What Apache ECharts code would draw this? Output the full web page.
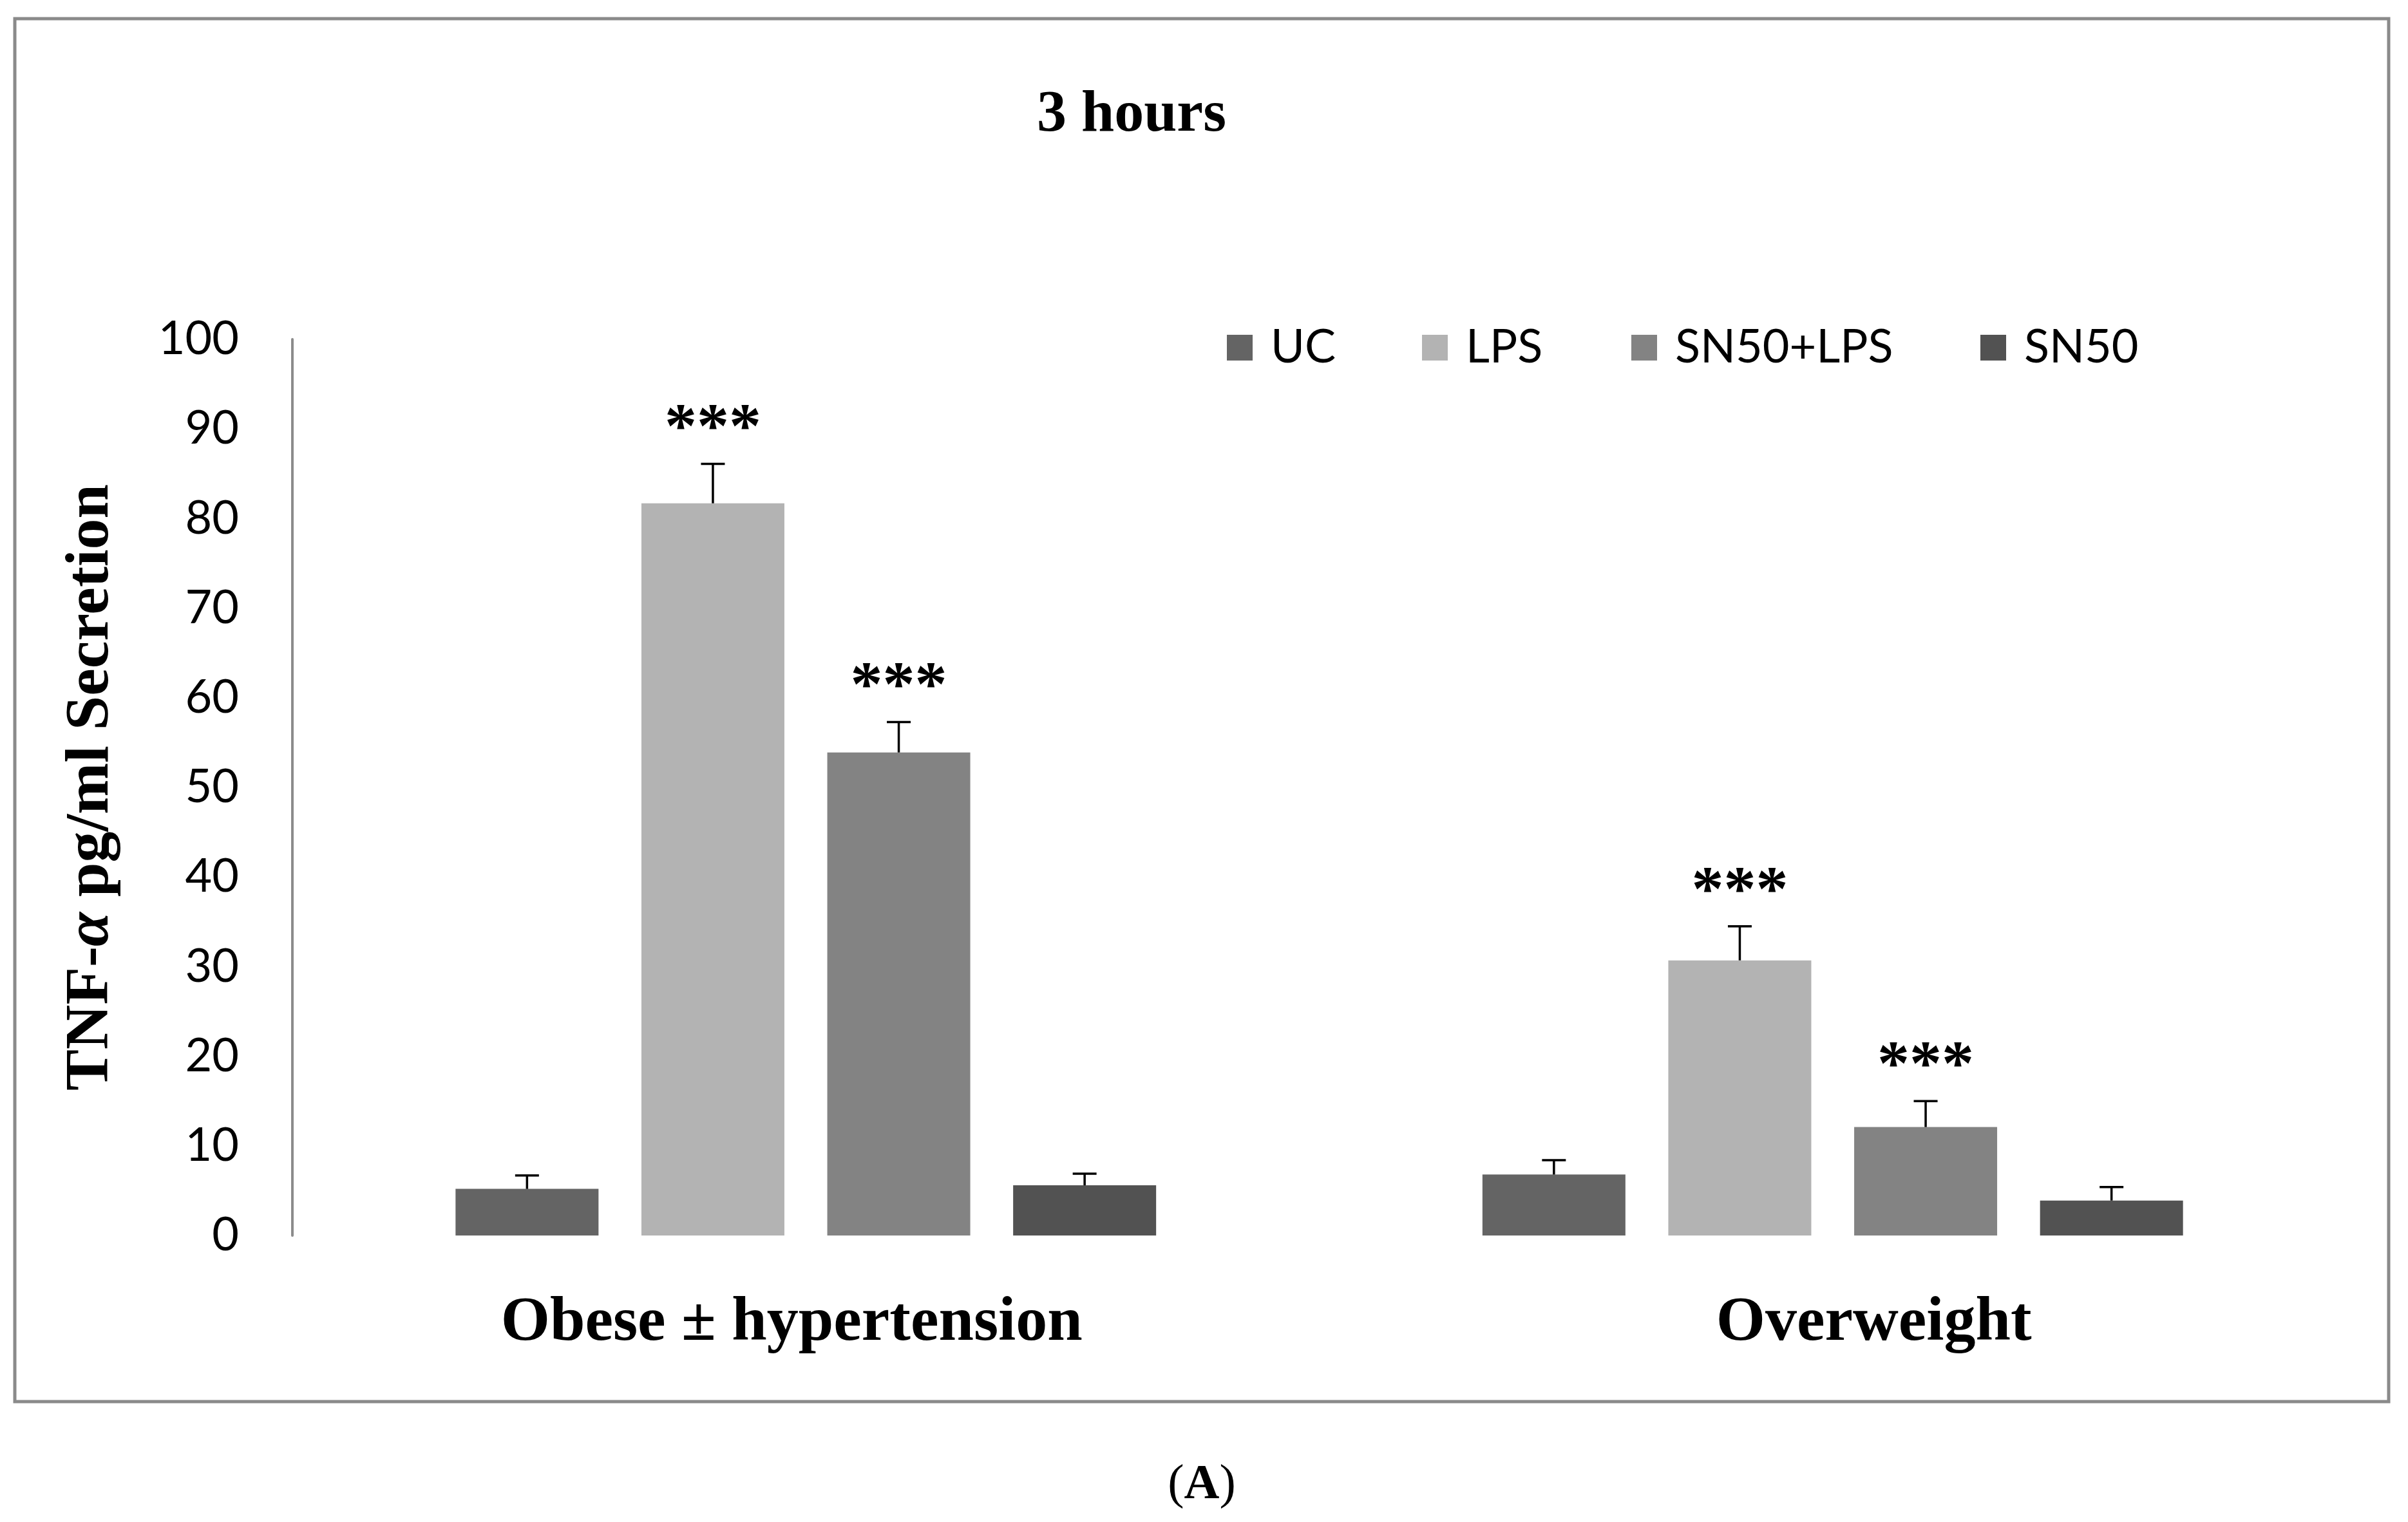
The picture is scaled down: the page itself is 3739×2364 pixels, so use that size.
<!DOCTYPE html>
<html>
<head>
<meta charset="utf-8">
<script src="https://cdn.jsdelivr.net/npm/echarts@6/dist/echarts.min.js"></script>
<style>
html,body{margin:0;padding:0;background:#fff;}
#chart{width:3739px;height:2364px;}
</style>
</head>
<body>
<div id="chart"></div>
<script>
// ---- data ----
const titleText = '3 hours';
const panelLabel = 'A';
const categories = ['Obese ± hypertension', 'Overweight'];
const seriesNames = ['UC', 'LPS', 'SN50+LPS', 'SN50'];
const ucValues = [5.2, 6.8];
const ucErrors = [1.5, 1.6];
const lpsValues = [81.7, 30.7];
const lpsErrors = [4.4, 3.8];
const sn50lpsValues = [53.9, 12.1];
const sn50lpsErrors = [3.4, 2.9];
const sn50Values = [5.6, 3.9];
const sn50Errors = [1.3, 1.5];
const ucStars = ['', ''];
const lpsStars = ['***', '***'];
const sn50lpsStars = ['***', '***'];
const sn50Stars = ['', ''];
const yMin = 0, yMax = 100, yInterval = 10;

// ---- style ----
const colors = ['#646464', '#b3b3b3', '#838383', '#525252'];
const SERIF = '"Liberation Serif", "Times New Roman", serif';
const SANS = 'Lato, "Open Sans", sans-serif';
const BAR_W = 222;
const GAP_RATIO = 0.30;
const CAP_W = 37;
const STAR_OFF = 52;

const allValues = [ucValues, lpsValues, sn50lpsValues, sn50Values];
const allErrors = [ucErrors, lpsErrors, sn50lpsErrors, sn50Errors];
const allStars = [ucStars, lpsStars, sn50lpsStars, sn50Stars];

const barSeries = seriesNames.map((n, i) => ({
  type: 'bar',
  name: n,
  data: allValues[i],
  barWidth: BAR_W,
  barGap: (GAP_RATIO * 100) + '%',
  itemStyle: { color: colors[i] },
  emphasis: { disabled: true },
  z: 2
}));

const errSeries = seriesNames.map((n, i) => ({
  type: 'custom',
  data: categories.map((c, k) => [k, allValues[i][k], allErrors[i][k]]),
  encode: { x: 0, y: 1 },
  z: 10,
  silent: true,
  renderItem: function (params, api) {
    const c = api.value(0), v = api.value(1), e = api.value(2);
    const base = api.coord([c, v]);
    const top = api.coord([c, v + e]);
    const x = base[0] + (i - 1.5) * BAR_W * (1 + GAP_RATIO);
    const star = allStars[i][params.dataIndex];
    const children = [
      { type: 'line', shape: { x1: x, y1: base[1], x2: x, y2: top[1] },
        style: { stroke: '#000', lineWidth: 3.5 } },
      { type: 'line', shape: { x1: x - CAP_W / 2, y1: top[1], x2: x + CAP_W / 2, y2: top[1] },
        style: { stroke: '#000', lineWidth: 3.5 } }
    ];
    if (star) {
      children.push({ type: 'text', x: x, y: top[1] - STAR_OFF,
        style: { text: star, fill: '#000', font: 'bold 100px ' + SERIF,
          align: 'center', verticalAlign: 'middle' } });
    }
    return { type: 'group', children: children };
  }
}));

const legendLefts = [1900, 2203, 2528, 3070];
const legends = seriesNames.map((n, i) => ({
  data: [n],
  left: legendLefts[i],
  top: 499,
  icon: 'rect',
  itemWidth: 40,
  itemHeight: 40,
  selectedMode: false,
  textStyle: { fontFamily: SANS, fontSize: 72, color: '#000', padding: [0, 0, 0, 23] }
}));

const chart = echarts.init(document.getElementById('chart'));
chart.setOption({
  animation: false,
  backgroundColor: '#fff',
  color: colors,
  legend: legends,
  grid: { left: 454, right: 96, top: 527, bottom: 445, containLabel: false },
  xAxis: {
    type: 'category',
    data: categories,
    axisLine: { show: false },
    axisTick: { show: false },
    axisLabel: {
      margin: 88,
      formatter: function (v, idx) { return '{c' + idx + '|' + v + '}'; },
      rich: {
        c0: { fontFamily: SERIF, fontWeight: 'bold', fontSize: 98, color: '#000', padding: [0, 44, 0, 0] },
        c1: { fontFamily: SERIF, fontWeight: 'bold', fontSize: 98, color: '#000', padding: [0, 0, 0, 128] }
      }
    }
  },
  yAxis: {
    type: 'value',
    min: yMin, max: yMax, interval: yInterval,
    axisLine: { show: true, lineStyle: { color: '#8c8c8c', width: 4 } },
    axisTick: { show: false },
    splitLine: { show: false },
    axisLabel: { fontFamily: SANS, fontSize: 72, color: '#000', margin: 83 },
    name: 'TNF-{a|α} pg/ml Secretion',
    nameLocation: 'middle',
    nameGap: 264,
    nameTextStyle: {
      fontFamily: SERIF, fontWeight: 'bold', fontSize: 96, color: '#000',
      rich: { a: { fontFamily: SERIF, fontWeight: 'bold', fontStyle: 'italic', fontSize: 96, color: '#000' } }
    }
  },
  graphic: [
    { type: 'rect', shape: { x: 23, y: 29, width: 3686, height: 2148 },
      style: { fill: 'none', stroke: '#8a8a8a', lineWidth: 5 }, silent: true },
    { type: 'text', x: 1757, y: 179,
      style: { text: titleText, font: 'bold 92px ' + SERIF, fill: '#000', align: 'center', verticalAlign: 'middle' } },
    { type: 'text', x: 1866, y: 2307,
      style: { text: '({b|' + panelLabel + '})', font: '76px ' + SERIF, fill: '#000', align: 'center', verticalAlign: 'middle',
        rich: { b: { font: 'bold 76px ' + SERIF, fill: '#000' } } } }
  ],
  series: barSeries.concat(errSeries)
});
</script>
</body>
</html>
